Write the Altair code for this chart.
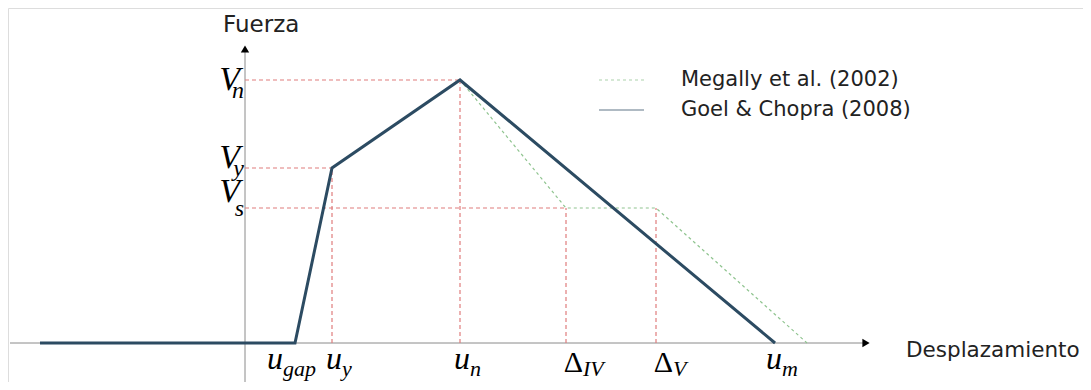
import altair as alt
import pandas as pd

# ---- data (displacement u, force F) ----
series_names = ["Megally et al. (2002)", "Goel & Chopra (2008)"]

goel_u = [-205, 50, 87, 215, 530]
goel_F = [0, 0, 175, 263, 0]

meg_u = [215, 321, 411, 562]
meg_F = [263, 135, 135, 0]

# characteristic points
u_gap, u_y, u_n, d_IV, d_V, u_m = 50, 87, 215, 321, 411, 530
V_n, V_y, V_s = 263, 175, 135

# axis extents
axis_u = [-235, 621]
axis_F = [-39, 294]

# tick-like labels
x_main = ["u", "u", "u", "Δ", "Δ", "u"]
x_sub = ["gap", "y", "n", "IV", "V", "m"]
x_vals = [u_gap, u_y, u_n, d_IV, d_V, u_m]
y_main = ["V", "V", "V"]
y_sub = ["n", "y", "s"]
y_vals = [V_n, V_y, V_s]

# ---- styles / offsets ----
x_junction_off = [-12, 10, 10, 17, 17, 7]
y_main_off = [-10, 0, 6]
y_sub_off = [-18, -8, -8]

C_GOEL = "#2c4b62"
C_MEG = "#8fc48f"
C_RED = "#e07c7c"
C_AXIS = "#8a8a8a"

xs = alt.Scale(domain=[-237, 838], nice=False, zero=False)
ys = alt.Scale(domain=[-39, 335], nice=False, zero=False)


def X(f, **kw):
    return alt.X(f, type="quantitative", scale=xs, axis=None, **kw)


def Y(f, **kw):
    return alt.Y(f, type="quantitative", scale=ys, axis=None, **kw)


serie_col = [series_names[0]] * len(meg_u) + [series_names[1]] * len(goel_u)
lines = pd.DataFrame(
    {
        "u": meg_u + goel_u,
        "F": meg_F + goel_F,
        "serie": serie_col,
        "i": list(range(len(meg_u))) + list(range(len(goel_u))),
    }
)
goel = pd.DataFrame({"u": goel_u, "F": goel_F, "i": list(range(len(goel_u)))})

hg = pd.DataFrame({"x": [0, 0, 0], "x2": [u_y, u_n, d_IV], "y": [V_y, V_n, V_s]})
vg = pd.DataFrame({"x": [u_y, u_n, d_IV, d_V], "y": [0, 0, 0, 0], "y2": [V_y, V_n, V_s, V_s]})

axes_h = pd.DataFrame({"x": [axis_u[0]], "x2": [axis_u[1]], "y": [0]})
axes_v = pd.DataFrame({"x": [0], "y": [axis_F[0]], "y2": [axis_F[1]]})
arrow_up = pd.DataFrame({"x": [0], "y": [axis_F[1]]})
arrow_right = pd.DataFrame({"x": [axis_u[1]], "y": [0]})

xl = pd.DataFrame(
    {
        "main": x_main,
        "sub": x_sub,
        "jx": [v + o for v, o in zip(x_vals, x_junction_off)],
        "my": [-26 if m == "u" else -29 for m in x_main],
        "sy": [-33] * len(x_main),
    }
)
yl = pd.DataFrame(
    {
        "main": y_main,
        "sub": y_sub,
        "mx": [-5] * 3,
        "sx": [-1] * 3,
        "my": [v + o for v, o in zip(y_vals, y_main_off)],
        "sy": [v + o for v, o in zip(y_vals, y_sub_off)],
    }
)
titles = pd.DataFrame(
    {"t": ["Fuerza", "Desplazamiento"], "x": [-22, 661], "y": [311, -14], "s": [23, 21.5]}
)

legend = alt.Legend(
    title=None,
    orient="none",
    legendX=590,
    legendY=57,
    symbolType="stroke",
    symbolSize=2025,
    symbolStrokeWidth=1.2,
    symbolOpacity=0.75,
    clipHeight=30,
    rowPadding=0,
    padding=0,
    labelFont="DejaVu Sans",
    labelFontSize=21,
    labelColor="#222222",
    labelOffset=36,
    labelLimit=500,
)

base_h = alt.Chart(axes_h).mark_rule(color=C_AXIS, strokeWidth=1).encode(
    x=X("x"), x2="x2", y=Y("y")
)
base_v = alt.Chart(axes_v).mark_rule(color=C_AXIS, strokeWidth=1).encode(
    x=X("x"), y=Y("y"), y2="y2"
)
g_h = alt.Chart(hg).mark_rule(color=C_RED, strokeWidth=1.2, strokeDash=[4, 3]).encode(
    x=X("x"), x2="x2", y=Y("y")
)
g_v = alt.Chart(vg).mark_rule(color=C_RED, strokeWidth=1.2, strokeDash=[4, 3]).encode(
    x=X("x"), y=Y("y"), y2="y2"
)

# both envelopes at thin width (this layer carries the legend)
curves = alt.Chart(lines).mark_line(strokeJoin="miter", strokeWidth=1.2).encode(
    x=X("u"),
    y=Y("F"),
    color=alt.Color(
        "serie:N", scale=alt.Scale(domain=series_names, range=[C_MEG, C_GOEL]), legend=legend
    ),
    strokeDash=alt.StrokeDash(
        "serie:N", scale=alt.Scale(domain=series_names, range=[[3, 3], [1, 0]]), legend=legend
    ),
    order="i:Q",
)
# thick Goel & Chopra envelope on top
goel_thick = alt.Chart(goel).mark_line(strokeJoin="miter", strokeWidth=3, color=C_GOEL).encode(
    x=X("u"), y=Y("F"), order="i:Q"
)

a_up = alt.Chart(arrow_up).mark_point(
    shape="triangle-up", filled=True, color="black", size=70, opacity=1
).encode(x=X("x"), y=Y("y"))
a_right = alt.Chart(arrow_right).mark_point(
    shape="triangle-right", filled=True, color="black", size=70, opacity=1
).encode(x=X("x"), y=Y("y"))

xl_u = alt.Chart(xl).transform_filter("datum.main == 'u'").mark_text(
    font="Liberation Serif", fontStyle="italic", fontSize=32, align="right",
    baseline="alphabetic", color="black"
).encode(x=X("jx"), y=Y("my"), text="main:N")
xl_d = alt.Chart(xl).transform_filter("datum.main != 'u'").mark_text(
    font="Liberation Serif", fontSize=30, align="right", baseline="alphabetic", color="black"
).encode(x=X("jx"), y=Y("my"), text="main:N")
xl_s = alt.Chart(xl).mark_text(
    font="Liberation Serif", fontStyle="italic", fontSize=22, align="left",
    baseline="alphabetic", color="black"
).encode(x=X("jx"), y=Y("sy"), text="sub:N")

yl_m = alt.Chart(yl).mark_text(
    font="Liberation Serif", fontStyle="italic", fontSize=34, align="right",
    baseline="alphabetic", color="black"
).encode(x=X("mx"), y=Y("my"), text="main:N")
yl_s = alt.Chart(yl).mark_text(
    font="Liberation Serif", fontStyle="italic", fontSize=24, align="right",
    baseline="alphabetic", color="black"
).encode(x=X("sx"), y=Y("sy"), text="sub:N")

tt = alt.Chart(titles).mark_text(
    font="DejaVu Sans", align="left", baseline="alphabetic", color="#222222"
).encode(x=X("x"), y=Y("y"), text="t:N", size=alt.Size("s:Q", scale=None, legend=None))

chart = (
    alt.layer(
        base_h, base_v, g_h, g_v, curves, goel_thick, a_up, a_right,
        xl_u, xl_d, xl_s, yl_m, yl_s, tt,
    )
    .properties(width=1075, height=374, autosize=alt.AutoSizeParams(type="none"), padding=0)
    .configure_view(stroke="transparent", strokeWidth=0)
    .configure(background="white")
)

chart.save("out.html", embed_options={"renderer": "svg", "actions": False})
